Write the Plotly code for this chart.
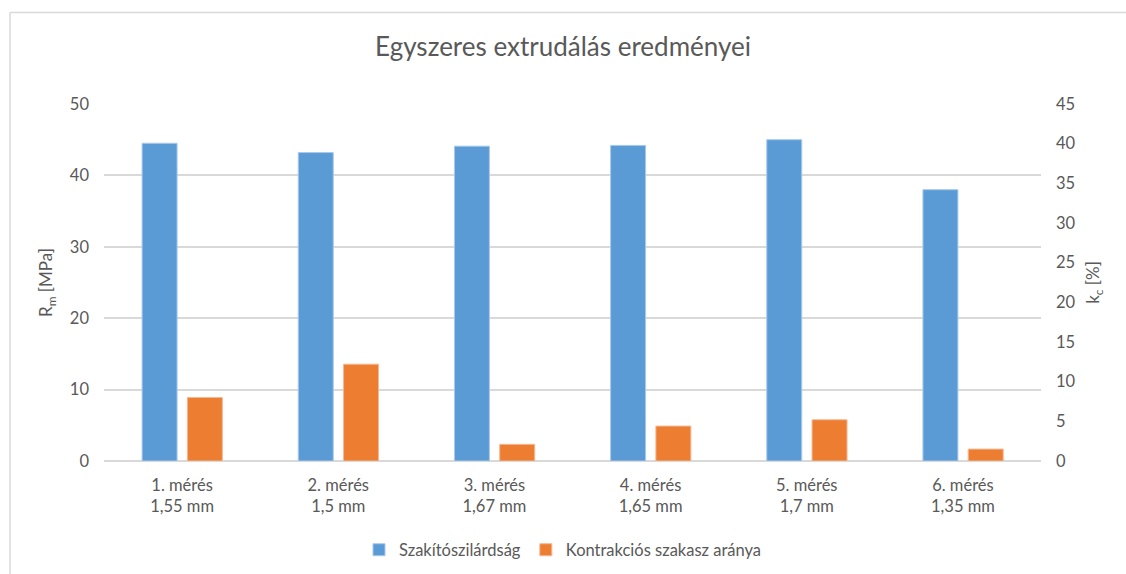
import plotly.graph_objects as go

# Measurement labels (two lines: run number and diameter)
categories = ["1. mérés<br>1,55 mm", "2. mérés<br>1,5 mm", "3. mérés<br>1,67 mm",
              "4. mérés<br>1,65 mm", "5. mérés<br>1,7 mm", "6. mérés<br>1,35 mm"]
# Tensile strength, MPa (left axis)
szakito = [44.5, 43.2, 44.1, 44.2, 45.0, 38.0]
# Contraction section ratio, % (right axis)
kontrakcio = [8.0, 12.2, 2.1, 4.4, 5.2, 1.5]

FONT = "Lato"
GRAY = "#595959"

fig = go.Figure()
fig.add_trace(go.Bar(
    x=categories, y=szakito, name="Szakítószilárdság",
    marker=dict(color="#5b9bd5", line=dict(color="#a9c8ec", width=1)),
    width=0.224, offset=-0.256, yaxis="y",
))
fig.add_trace(go.Bar(
    x=categories, y=kontrakcio, name="Kontrakciós szakasz aránya",
    marker=dict(color="#ed7d31", line=dict(color="#f5b894", width=1)),
    width=0.224, offset=0.034, yaxis="y2",
))

# plot area in pixels: x 104..1041, y 104.4..461
W, H = 1126, 574
L, R, T, B = 104, 1041, 104.4, 461
pw, ph = R - L, B - T

def px(x):
    return (x - L) / pw

def py(y):
    return (B - y) / ph

fig.update_layout(
    width=W, height=H,
    margin=dict(l=L, r=W - R, t=T, b=H - B, autoexpand=False),
    paper_bgcolor="white", plot_bgcolor="white",
    font=dict(family=FONT, color=GRAY, size=16),
    title=dict(text="Egyszeres extrudálás eredményei", x=0.5, xanchor="center",
               y=1 - 47 / H, yanchor="middle",
               font=dict(family=FONT, size=26, color=GRAY)),
    barmode="overlay",
    showlegend=True,
    legend=dict(orientation="h", x=0.5, xanchor="center", xref="container",
                y=1 - 550 / H, yanchor="middle", yref="container",
                font=dict(size=16.5, color=GRAY), itemwidth=30,
                traceorder="normal"),
    xaxis=dict(showgrid=False, showline=False, ticks="", ticklabelstandoff=12,
               tickfont=dict(size=16.5, color=GRAY)),
    yaxis=dict(range=[0, 50], dtick=10, showgrid=True, gridcolor="#d9d9d9",
               gridwidth=1.5, zeroline=True, zerolinecolor="#d9d9d9", zerolinewidth=1.5,
               showline=False, ticks="", ticklabelstandoff=14,
               tickfont=dict(size=16.5, color=GRAY),
               title=dict(text="R<sub>m</sub> [MPa]", standoff=12,
                          font=dict(size=17, color=GRAY))),
    yaxis2=dict(range=[0, 45], dtick=5, overlaying="y", side="right",
                showgrid=False, zeroline=False, showline=False, ticks="",
                ticklabelstandoff=14, tickfont=dict(size=16.5, color=GRAY),
                title=dict(text="k<sub>c</sub> [%]", standoff=12,
                           font=dict(size=17, color=GRAY))),
)

# chart frame (top and left edges)
frame = dict(color="#d9d9d9", width=1.5)
fig.add_shape(type="line", xref="paper", yref="paper",
              x0=px(10), x1=px(W + 5), y0=py(13), y1=py(13), line=frame)
fig.add_shape(type="line", xref="paper", yref="paper",
              x0=px(10), x1=px(10), y0=py(13), y1=py(H + 5), line=frame)

fig.write_html("out.html")
